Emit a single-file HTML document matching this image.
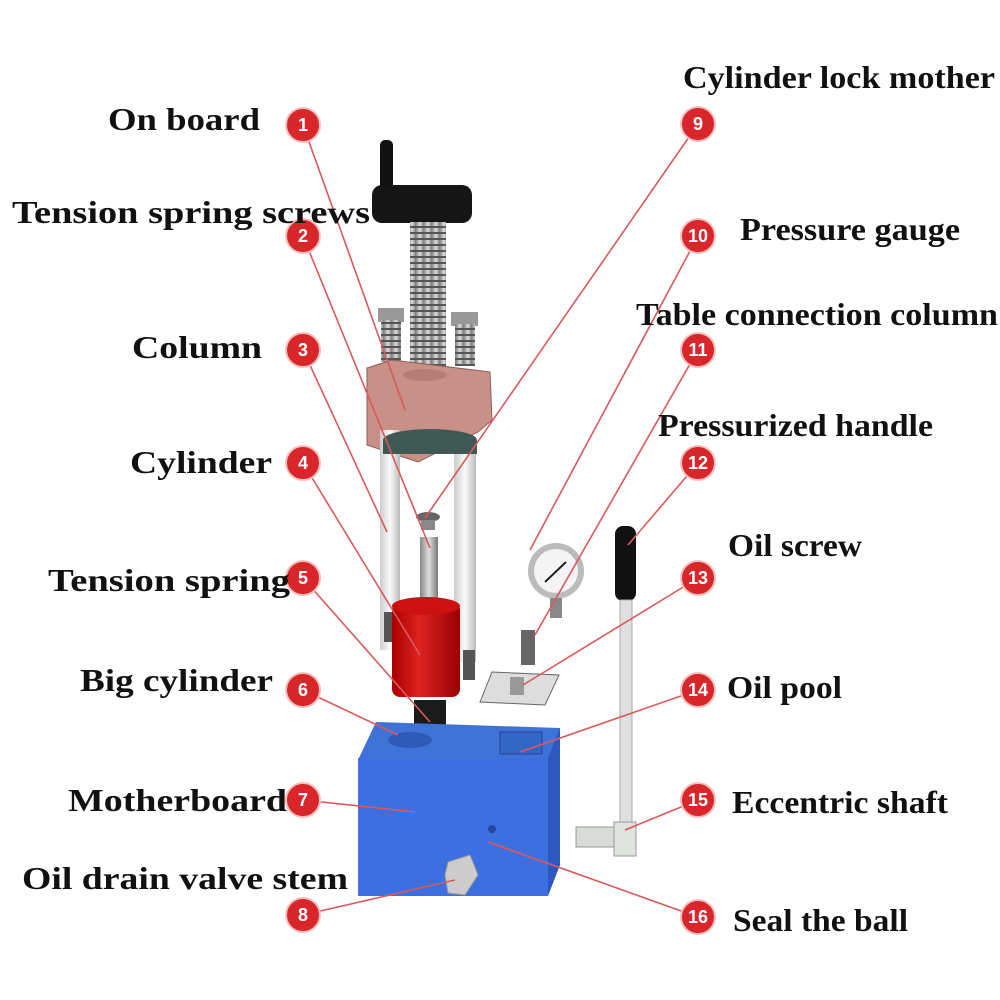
<!DOCTYPE html>
<html><head><style>body{margin:0;background:#fff}svg{display:block}
text{font-family:"Liberation Serif",serif;font-weight:bold;font-size:32px;fill:#111}
text.n{font-family:"Liberation Sans",sans-serif;font-size:18px;fill:#fff;text-anchor:middle}
</style></head><body>
<svg width="1000" height="1000" viewBox="0 0 1000 1000">
<defs><linearGradient id="sc" x1="0" x2="1"><stop offset="0" stop-color="#888"/><stop offset=".5" stop-color="#ddd"/><stop offset="1" stop-color="#777"/></linearGradient>
<linearGradient id="rd" x1="0" x2="1"><stop offset="0" stop-color="#a00"/><stop offset=".4" stop-color="#d22"/><stop offset="1" stop-color="#900"/></linearGradient>
<linearGradient id="wc" x1="0" x2="1"><stop offset="0" stop-color="#ccc"/><stop offset=".5" stop-color="#fafafa"/><stop offset="1" stop-color="#bbb"/></linearGradient>
<pattern id="th" width="8" height="6" patternUnits="userSpaceOnUse"><rect width="8" height="6" fill="url(#sc)"/><rect y="4" width="8" height="2" fill="#555"/></pattern></defs>
<rect x="380" y="140" width="13" height="55" rx="5" fill="#111"/>
<rect x="372" y="185" width="100" height="38" rx="10" fill="#151515"/>
<rect x="410" y="222" width="36" height="170" fill="url(#th)"/>
<rect x="378" y="308" width="26" height="14" fill="#999"/><rect x="381" y="320" width="20" height="42" fill="url(#th)"/>
<rect x="451" y="312" width="27" height="14" fill="#999"/><rect x="455" y="324" width="20" height="42" fill="url(#th)"/>
<polygon points="367,368 392,360 490,372 492,420 478,432 418,462 367,445" fill="#c99088" stroke="#8a5e58"/>
<ellipse cx="425" cy="375" rx="22" ry="6" fill="#b57d75"/>
<rect x="380" y="430" width="20" height="220" fill="url(#wc)"/>
<rect x="454" y="452" width="22" height="210" fill="url(#wc)"/>
<rect x="384" y="612" width="14" height="30" fill="#555"/><rect x="463" y="650" width="12" height="30" fill="#555"/>
<ellipse cx="430" cy="440" rx="47" ry="11" fill="#3f5a55"/><rect x="383" y="440" width="94" height="14" fill="#3f5a55"/>
<ellipse cx="428" cy="517" rx="12" ry="5" fill="#666"/><rect x="421" y="520" width="14" height="10" fill="#888"/>
<rect x="420" y="537" width="18" height="65" fill="url(#sc)"/>
<rect x="392" y="602" width="68" height="95" rx="8" fill="url(#rd)"/>
<ellipse cx="426" cy="606" rx="34" ry="9" fill="#c11"/>
<rect x="414" y="700" width="32" height="55" fill="#1a1a1a"/>
<polygon points="376,722 560,728 555,760 358,760" fill="#3e72d6"/>
<ellipse cx="410" cy="740" rx="22" ry="8" fill="#2f5bb8"/>
<rect x="358" y="758" width="190" height="138" fill="#3e6fe0"/>
<polygon points="548,758 560,728 560,865 548,896" fill="#2d58c0"/>
<rect x="500" y="732" width="42" height="22" fill="#3466c8" stroke="#25449a"/>
<circle cx="492" cy="829" r="4" fill="#2346a0"/>
<polygon points="448,862 470,855 478,875 465,895 448,893 445,875" fill="#ccc" stroke="#999"/>
<circle cx="556" cy="571" r="28" fill="#bbb"/><circle cx="556" cy="571" r="22" fill="#f4f4f4"/>
<line x1="545" y1="582" x2="566" y2="562" stroke="#222" stroke-width="2"/>
<rect x="550" y="598" width="12" height="20" fill="#888"/>
<rect x="521" y="630" width="14" height="35" fill="#666"/>
<polygon points="492,672 559,675 545,705 480,702" fill="#ddd" stroke="#666"/>
<rect x="510" y="677" width="14" height="18" fill="#999"/>
<rect x="615" y="526" width="21" height="75" rx="8" fill="#111"/>
<rect x="620" y="600" width="12" height="230" fill="#dde0dd" stroke="#aaa"/>
<rect x="576" y="827" width="50" height="20" fill="#d8dcd6" stroke="#999"/>
<rect x="614" y="822" width="22" height="34" fill="#e0e3de" stroke="#999"/>
<g stroke="#d9595c" stroke-width="1.6" fill="none">
<line x1="303" y1="125" x2="405" y2="410"/><line x1="303" y1="236" x2="430" y2="548"/>
<line x1="303" y1="350" x2="387" y2="532"/><line x1="303" y1="463" x2="420" y2="655"/>
<line x1="303" y1="578" x2="430" y2="722"/><line x1="303" y1="690" x2="398" y2="735"/>
<line x1="303" y1="800" x2="415" y2="812"/><line x1="303" y1="915" x2="455" y2="880"/>
<line x1="698" y1="124" x2="425" y2="518"/><line x1="698" y1="236" x2="530" y2="550"/>
<line x1="698" y1="350" x2="535" y2="635"/><line x1="698" y1="463" x2="628" y2="545"/>
<line x1="698" y1="578" x2="523" y2="685"/><line x1="698" y1="690" x2="520" y2="752"/>
<line x1="698" y1="800" x2="625" y2="830"/><line x1="698" y1="917" x2="488" y2="842"/>
</g>
<g fill="#d9262a" stroke="#f3c0c0" stroke-width="2">
<circle cx="303" cy="125" r="17"/><circle cx="303" cy="236" r="17"/><circle cx="303" cy="350" r="17"/><circle cx="303" cy="463" r="17"/>
<circle cx="303" cy="578" r="17"/><circle cx="303" cy="690" r="17"/><circle cx="303" cy="800" r="17"/><circle cx="303" cy="915" r="17"/>
<circle cx="698" cy="124" r="17"/><circle cx="698" cy="236" r="17"/><circle cx="698" cy="350" r="17"/><circle cx="698" cy="463" r="17"/>
<circle cx="698" cy="578" r="17"/><circle cx="698" cy="690" r="17"/><circle cx="698" cy="800" r="17"/><circle cx="698" cy="917" r="17"/>
</g>
<text class="n" x="303" y="131">1</text><text class="n" x="303" y="242">2</text><text class="n" x="303" y="356">3</text><text class="n" x="303" y="469">4</text>
<text class="n" x="303" y="584">5</text><text class="n" x="303" y="696">6</text><text class="n" x="303" y="806">7</text><text class="n" x="303" y="921">8</text>
<text class="n" x="698" y="130">9</text><text class="n" x="698" y="242">10</text><text class="n" x="698" y="356">11</text><text class="n" x="698" y="469">12</text>
<text class="n" x="698" y="584">13</text><text class="n" x="698" y="696">14</text><text class="n" x="698" y="806">15</text><text class="n" x="698" y="923">16</text>
<g>
<text x="108" y="130" textLength="152" lengthAdjust="spacingAndGlyphs">On board</text>
<text x="12" y="223" textLength="358" lengthAdjust="spacingAndGlyphs">Tension spring screws</text>
<text x="132" y="358" textLength="130" lengthAdjust="spacingAndGlyphs">Column</text>
<text x="130" y="473" textLength="142" lengthAdjust="spacingAndGlyphs">Cylinder</text>
<text x="48" y="591" textLength="242" lengthAdjust="spacingAndGlyphs">Tension spring</text>
<text x="80" y="691" textLength="193" lengthAdjust="spacingAndGlyphs">Big cylinder</text>
<text x="68" y="811" textLength="219" lengthAdjust="spacingAndGlyphs">Motherboard</text>
<text x="22" y="889" textLength="326" lengthAdjust="spacingAndGlyphs">Oil drain valve stem</text>
<text x="683" y="88" textLength="312" lengthAdjust="spacingAndGlyphs">Cylinder lock mother</text>
<text x="740" y="240" textLength="220" lengthAdjust="spacingAndGlyphs">Pressure gauge</text>
<text x="636" y="325" textLength="362" lengthAdjust="spacingAndGlyphs">Table connection column</text>
<text x="658" y="436" textLength="275" lengthAdjust="spacingAndGlyphs">Pressurized handle</text>
<text x="728" y="556" textLength="134" lengthAdjust="spacingAndGlyphs">Oil screw</text>
<text x="727" y="698" textLength="115" lengthAdjust="spacingAndGlyphs">Oil pool</text>
<text x="732" y="813" textLength="216" lengthAdjust="spacingAndGlyphs">Eccentric shaft</text>
<text x="733" y="931" textLength="175" lengthAdjust="spacingAndGlyphs">Seal the ball</text>
</g>
</svg></body></html>
